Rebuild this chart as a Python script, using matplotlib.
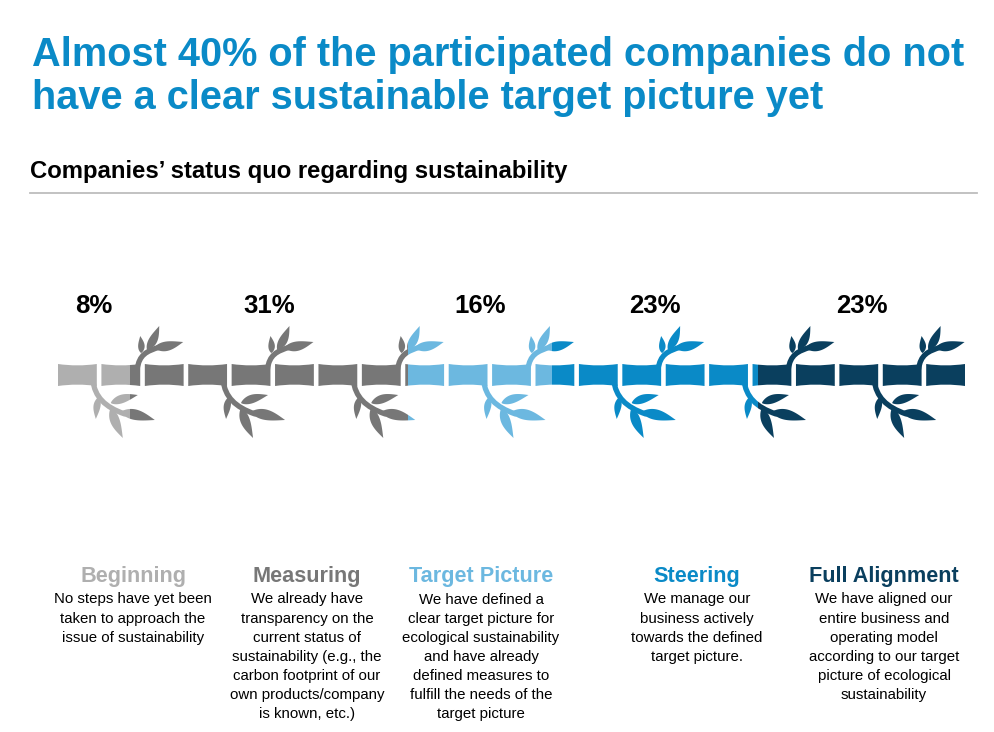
import numpy as np
import matplotlib
matplotlib.use('Agg')
import matplotlib.pyplot as plt
from matplotlib.patches import Polygon, PathPatch, Rectangle
from matplotlib.path import Path

# data
stages = ['Beginning', 'Measuring', 'Target Picture', 'Steering', 'Full Alignment']
shares = [8, 31, 16, 23, 23]
share_labels = ['8%', '31%', '16%', '23%', '23%']
descriptions = [
    'No steps have yet been\ntaken to approach the\nissue of sustainability',
    'We already have\ntransparency on the\ncurrent status of\nsustainability (e.g., the\n'
    'carbon footprint of our\nown products/company\nis known, etc.)',
    'We have defined a\nclear target picture for\necological sustainability\nand have already\n'
    'defined measures to\nfulfill the needs of the\ntarget picture',
    'We manage our\nbusiness actively\ntowards the defined\ntarget picture.',
    'We have aligned our\nentire business and\noperating model\naccording to our target\n'
    'picture of ecological\nsustainability',
]
title = 'Almost 40% of the participated companies do not\nhave a clear sustainable target picture yet'
subtitle = 'Companies\u2019 status quo regarding sustainability'

colors = ['#AFAFAF', '#777777', '#6CB8E0', '#0A8AC7', '#0A3F5E']
title_color = '#0A8AC7'

plt.rcParams['font.family'] = ['Liberation Sans', 'DejaVu Sans']

W, H = 995, 732
fig = plt.figure(figsize=(W / 100, H / 100), dpi=100)


def fx(x):
    return x / W


def fy(y):
    return 1 - y / H


# header
for i, line in enumerate(title.split('\n')):
    fig.text(fx(32), fy(66 + i * 43.3), line, fontsize=28.6, weight='bold',
             color=title_color, va='baseline', ha='left')
fig.text(fx(30), fy(178), subtitle, fontsize=17.2, weight='bold',
         color='black', va='baseline', ha='left')
fig.add_artist(plt.Line2D([fx(30), fx(977)], [fy(193), fy(193)],
                          color='#BDBDBD', lw=1.3))

# bamboo axes, geometry in pixel units converted to data units
x_left, x_right, y_mid = 58, 965, 375
total = sum(shares)
k = total / (x_right - x_left)
ax = fig.add_axes([fx(x_left), fy(450), (x_right - x_left) / W, 140 / H])
ax.set_xlim(0, total)
ax.set_ylim(-75 * k, 65 * k)
ax.axis('off')


def to_data(xs, ys):
    return np.column_stack([(np.asarray(xs, float) - x_left) * k,
                            (y_mid - np.asarray(ys, float)) * k])


def leaf(base, tip, width, bend=0.8):
    t = np.linspace(0, 1, 40)
    b = np.array(base, float)
    tp = np.array(tip, float)
    d = tp - b
    L = np.hypot(*d)
    u = d / L
    n = np.array([-u[1], u[0]])
    hw = width / 2 * np.sin(np.pi * t ** 0.75)
    bow = bend * np.sin(np.pi * t)
    up = b + np.outer(t * L, u) + np.outer(hw + bow, n)
    lo = b + np.outer(t * L, u) + np.outer(-hw + bow, n)
    pts = np.vstack([up, lo[::-1]])
    return to_data(pts[:, 0], pts[:, 1])


n_pieces = 21
gap = 4.6
pitch = (x_right - x_left + gap) / n_pieces
pw = pitch - gap
y_top, y_bot, sag = 364, 386, 1.4
c4 = [Path.MOVETO, Path.CURVE4, Path.CURVE4, Path.CURVE4]

shapes = []
for i in range(n_pieces):
    x0 = x_left + i * pitch
    x1 = x0 + pw
    xm = (x0 + x1) / 2
    verts = to_data([x0, xm, x1, x1, xm, x0, x0],
                    [y_top, y_top + 2 * sag, y_top, y_bot, y_bot - 2 * sag, y_bot, y_top])
    codes = [Path.MOVETO, Path.CURVE3, Path.CURVE3, Path.LINETO,
             Path.CURVE3, Path.CURVE3, Path.CLOSEPOLY]
    shapes.append(('fill', Path(verts, codes)))

    R = x1
    if i % 3 == 0:
        # branch hanging down
        shapes.append(('stem', Path(to_data([R - 4, R - 2, R + 8, R + 28],
                                            [380, 397, 407, 414]), c4)))
        shapes.append(('leaf', leaf((R + 14, 403), (R + 41, 395), 8.5, -0.8)))
        shapes.append(('leaf', leaf((R + 2, 397), (R - 1, 419), 7, 0.6)))
        shapes.append(('leaf', leaf((R + 14, 408), (R + 26, 438), 9.5, 0.9)))
        shapes.append(('leaf', leaf((R + 24, 412), (R + 58, 420), 10.5, -0.7)))
    elif i % 3 == 1:
        # branch growing up
        shapes.append(('stem', Path(to_data([R - 3, R - 1, R + 6, R + 20],
                                            [369, 355, 351, 347]), c4)))
        shapes.append(('leaf', leaf((R + 1, 353), (R, 336), 6.5, 0.6)))
        shapes.append(('leaf', leaf((R + 7, 350), (R + 19, 326), 8.5, 0.9)))
        shapes.append(('leaf', leaf((R + 14, 348), (R + 43, 342), 9.5, 0.8)))

cum = np.concatenate([[0], np.cumsum(shares)])
for j, col in enumerate(colors):
    clip = Rectangle((cum[j], -200 * k), shares[j], 400 * k, transform=ax.transData)
    for kind, geo in shapes:
        if kind == 'fill':
            p = PathPatch(geo, facecolor=col, edgecolor='none')
        elif kind == 'stem':
            p = PathPatch(geo, facecolor='none', edgecolor=col, lw=3.8, capstyle='round')
        else:
            p = Polygon(geo, closed=True, facecolor=col, edgecolor='none')
        ax.add_patch(p)
        p.set_clip_path(clip)

# percentage labels above each segment
for j, lab in enumerate(share_labels):
    xc = x_left + (cum[j] + shares[j] / 2) / k
    fig.text(fx(xc), fy(313), lab, fontsize=18.5, weight='bold', color='black',
             ha='center', va='baseline')

# stage names and descriptions
label_x = [133, 307, 481, 697, 884]
for j, (name, desc) in enumerate(zip(stages, descriptions)):
    fig.text(fx(label_x[j]), fy(582), name, fontsize=15.6, weight='bold',
             color=colors[j], ha='center', va='baseline')
    for li, line in enumerate(desc.split('\n')):
        fig.text(fx(label_x[j]), fy(603.5 + li * 19.1), line, fontsize=10.8,
                 color='black', ha='center', va='baseline')

fig.savefig('out.png', dpi=100, facecolor='white')
